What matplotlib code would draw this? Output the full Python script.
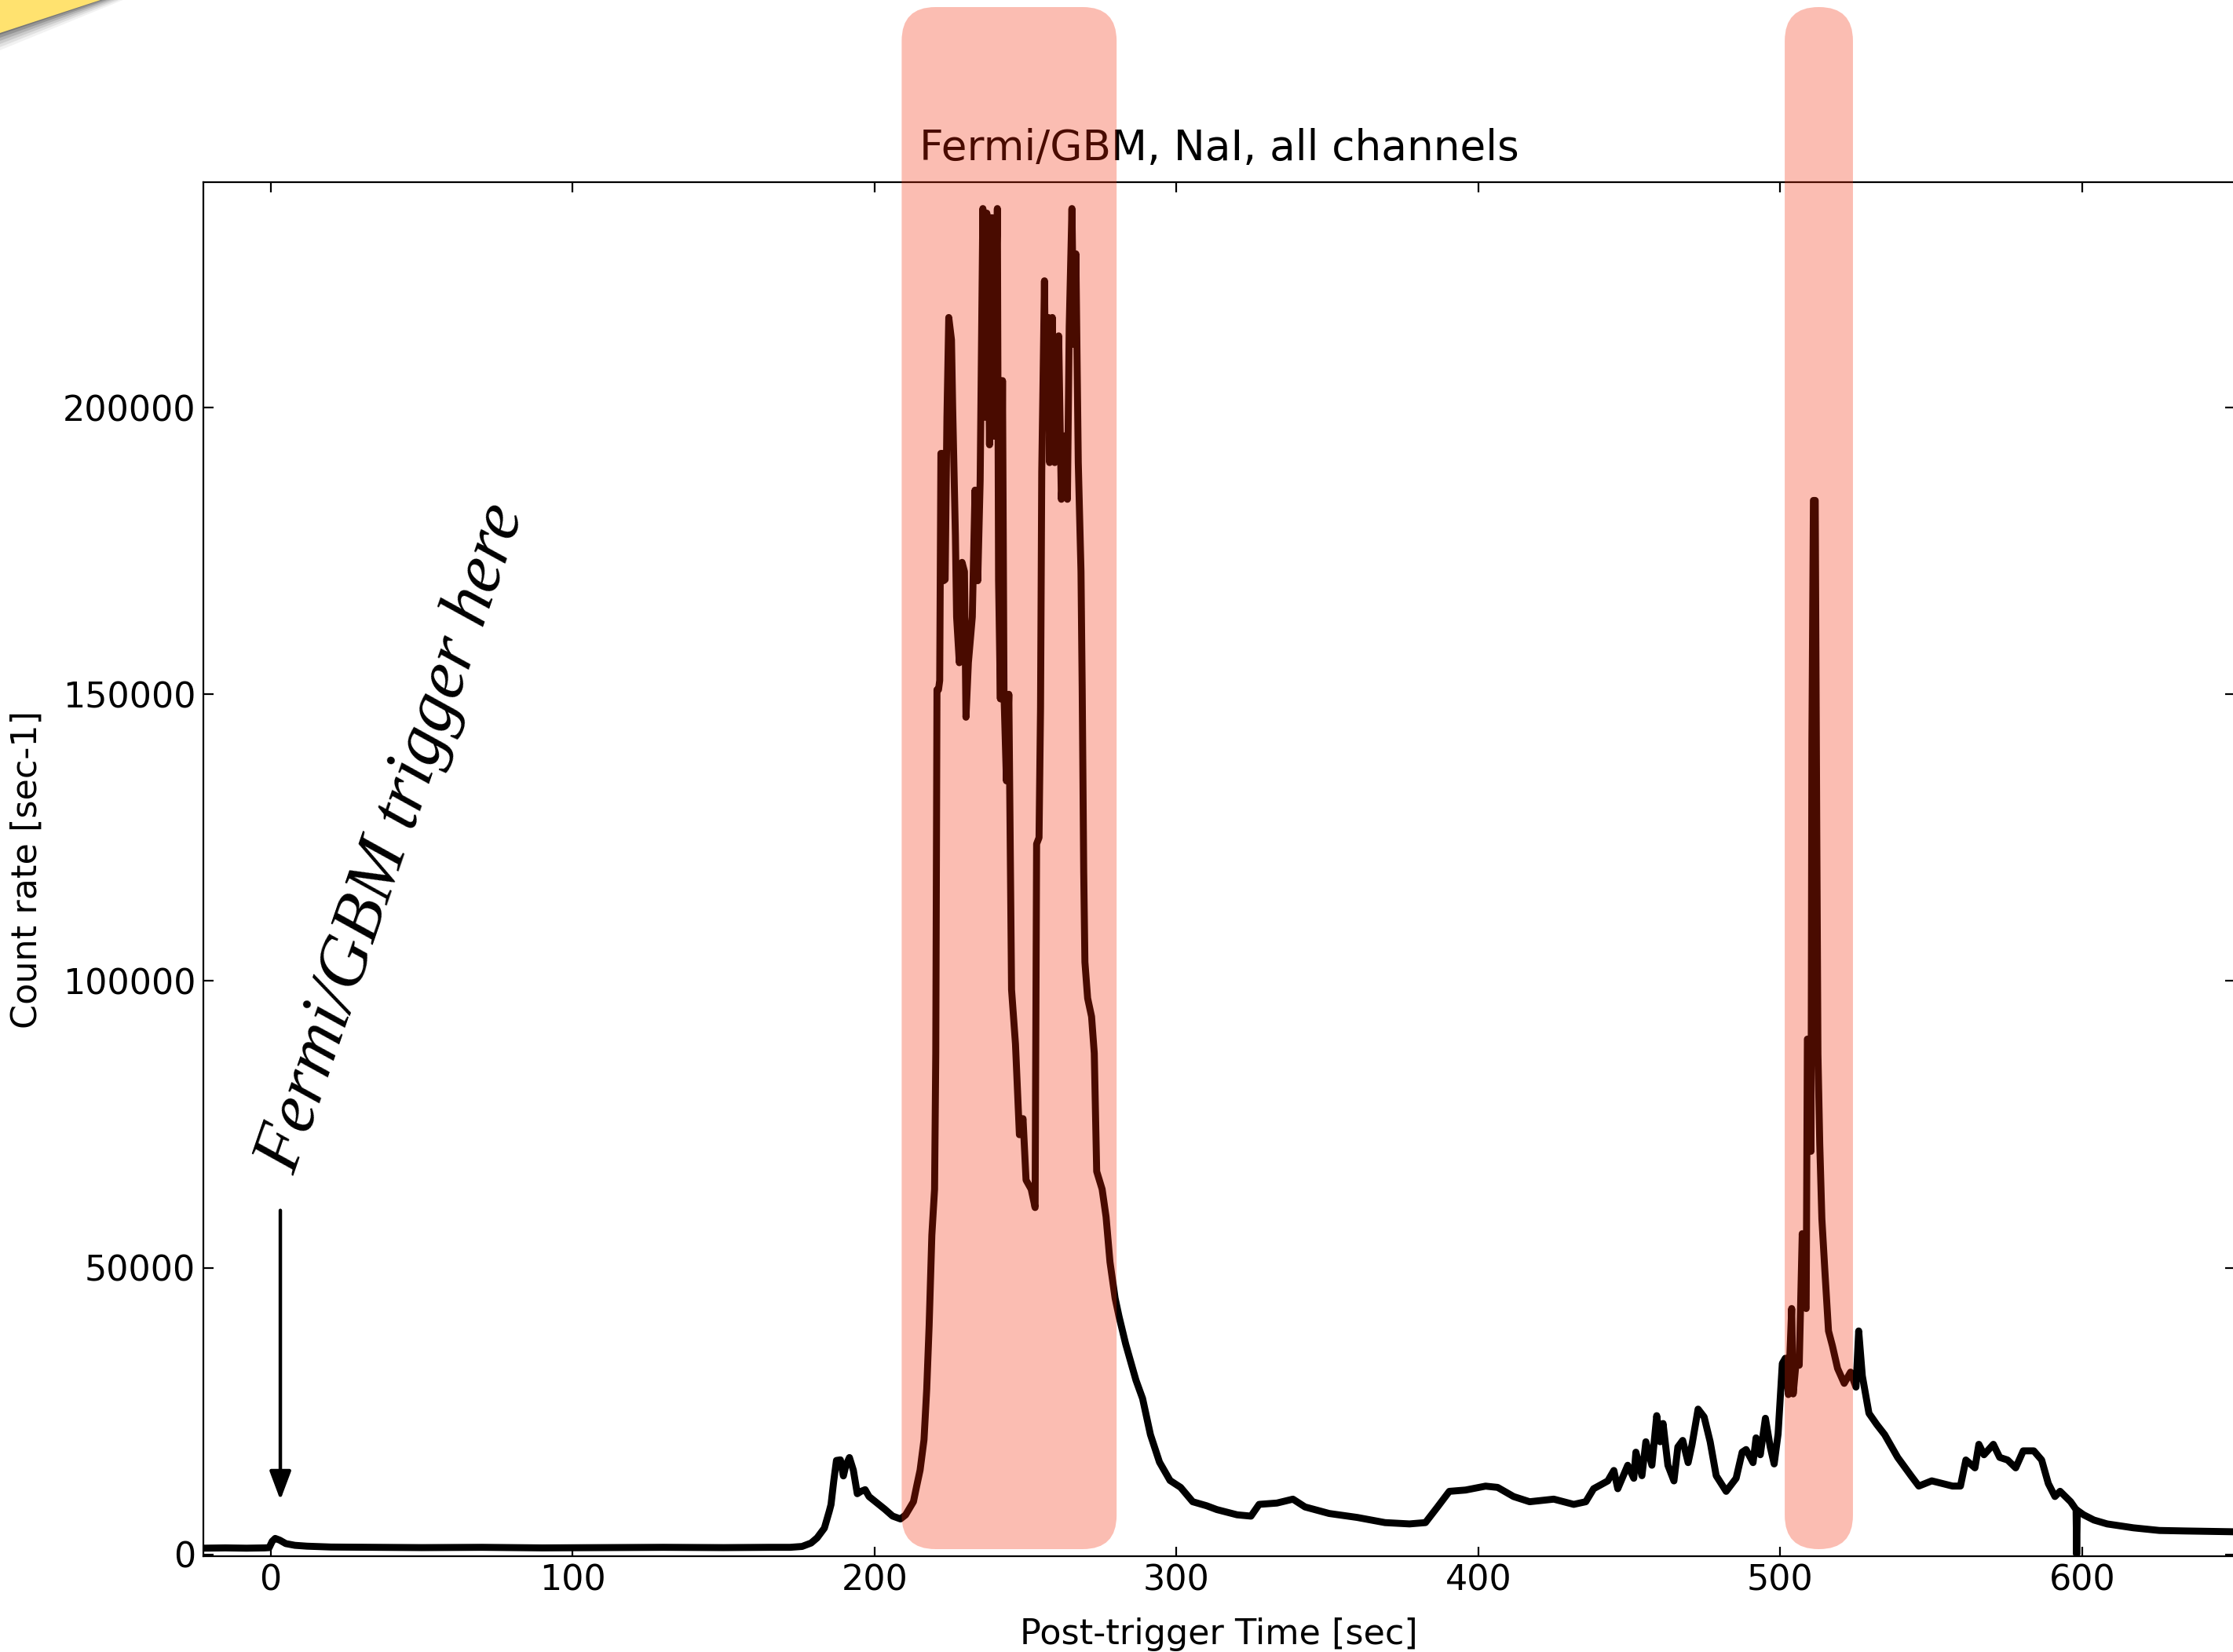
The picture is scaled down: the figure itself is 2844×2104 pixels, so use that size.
import numpy as np
import matplotlib
matplotlib.use("Agg")
import matplotlib.pyplot as plt
from matplotlib.patches import FancyBboxPatch, Polygon
from matplotlib.transforms import IdentityTransform

# Light curve: post-trigger time [s] and count rate [1/s]
time_s = [-22.3, -15, -8, -2, -0.5, 0.5, 1.5, 3, 5, 8, 12, 20, 35, 50, 70, 90, 110, 130,
          150, 165, 172, 176, 179, 181, 183.4, 185, 185.6, 186.5, 187.4, 188.7, 189.7,
          190.5, 191.7, 193, 194.3, 195.5, 196.9, 198.2, 200.8, 203.4, 206, 208.6, 210.3,
          212.9, 214, 215.1, 216.4, 217.3, 218.1, 219.0, 219.9, 220.3, 220.7, 221.2, 221.6,
          222.0, 222.5, 222.9, 223.4, 224.0, 224.6, 225.5, 225.9, 226.8, 227.2, 228.1,
          229.0, 229.8, 230.3, 231.1, 232.4, 233.3, 234.2, 235.0, 235.9, 236.8, 237.2,
          238.1, 238.9, 239.5, 240.7, 241.1, 241.7, 242.4, 242.9, 243.7, 244.5, 245.4,
          246.7, 248.0, 249.2, 250.2, 251.9, 253.2, 253.7, 254.5, 255.0, 255.4, 256.3,
          256.7, 257.6, 258.0, 258.9, 259.7, 261.0, 261.9, 263.2, 263.9, 264.5, 265.4,
          266.0, 266.7, 267.5, 268.4, 268.8, 269.3, 269.7, 270.6, 271.9, 272.8, 273.6,
          275.4, 276.7, 278.0, 279.7, 281.0, 283.2, 286.6, 288.8, 291.4, 294.4, 297.9,
          301.4, 305.4, 310, 313.4, 320.1, 324.7, 327.4, 333.3, 338.6, 342.6, 350.6,
          359.9, 369.1, 377.2, 382.5, 386.5, 390.4, 395.8, 402.4, 406.4, 411.7, 417.0,
          425.0, 431.6, 435.6, 438.2, 442.9, 444.9, 446.2, 449.5, 451.5, 452.2, 454.2,
          455.5, 457.5, 459.1, 460.2, 461.2, 462.8, 464.8, 466.1, 467.7, 469.5, 470.8,
          472.8, 474.8, 476.8, 478.8, 482.1, 485.4, 487.4, 488.7, 491.0, 492.0, 493.4,
          495.1, 496.7, 498.0, 499.3, 500.7, 501.7, 502.7, 503.8, 504.3, 505.3, 506.3,
          507.3, 507.9, 508.6, 509.0, 509.6, 510.2, 510.5, 511.0, 511.6, 512.1, 512.5,
          513.1, 513.8, 514.8, 516.0, 517.3, 519.0, 521.2, 523.3, 525.1, 526.0, 527.2,
          529.4, 532.0, 534.6, 538.9, 543.3, 545.9, 550.2, 553.7, 557.1, 559.7, 561.5,
          564.5, 565.8, 567.5, 570.6, 572.7, 575.3, 578.0, 580.5, 584.0, 586.6, 588.8,
          591.0, 592.7, 596.2, 598.0, 598.2, 598.4, 600.5, 603.9, 608.3, 617.0, 625.6,
          634.3, 650.5]
rate = [1100, 1150, 1100, 1150, 1200, 2300, 2800, 2500, 1900, 1600, 1450, 1300, 1250,
        1200, 1250, 1150, 1200, 1250, 1200, 1250, 1250, 1400, 2000, 2900, 4600, 7500,
        8700, 12800, 16400, 16500, 13700, 15500, 16900, 14700, 10600, 11000, 11300, 10100,
        9000, 7900, 6700, 6200, 6900, 9200, 12000, 14700, 20000, 28800, 39900, 55700,
        63700, 87400, 150800, 150800, 152400, 192000, 192000, 169800, 170000, 198300,
        215700, 211800, 199900, 177700, 163500, 155500, 173000, 171400, 146000, 155500,
        163500, 185600, 169800, 187200, 234700, 198300, 233900, 193500, 233100, 195000,
        234700, 169800, 149200, 204700, 150000, 134900, 150000, 98500, 89000, 73200,
        76000, 65300, 63700, 60500, 123900, 125000, 147600, 188800, 222100, 201500,
        215700, 190400, 215700, 190400, 212500, 184000, 195100, 184000, 214100, 234700,
        211000, 226800, 190400, 171400, 150800, 119100, 103300, 97000, 93800, 87400,
        66800, 63700, 58900, 51000, 44700, 41500, 36700, 30400, 27200, 20900, 16100,
        12900, 11700, 9200, 8500, 7830, 6920, 6690, 8740, 8970, 9650, 8290, 7150, 6460,
        5560, 5330, 5560, 8290, 11010, 11240, 11920, 11700, 10100, 9200, 9650, 8740,
        9200, 11470, 12830, 14650, 11470, 15560, 13290, 17840, 13740, 19660, 15560,
        24210, 19660, 22840, 15560, 12830, 18750, 19890, 16020, 19200, 25350, 23980,
        19660, 13740, 11010, 13290, 17840, 18300, 16020, 20340, 17390, 23750, 18750,
        15790, 21020, 33310, 34220, 27890, 42890, 28000, 33760, 33000, 55940, 43550,
        42890, 89870, 89870, 70300, 142100, 183800, 183800, 127700, 87260, 71600, 58550,
        49430, 38980, 36370, 32450, 29840, 31800, 29190, 38980, 31150, 24620, 22660,
        20900, 16930, 13750, 11930, 12840, 12380, 11930, 11930, 16480, 15110, 19210,
        17390, 19210, 16930, 16480, 15110, 18070, 18070, 16480, 12380, 10110, 11020,
        9200, 7830, 0, 7700, 6920, 6010, 5330, 4650, 4190, 4100, 3960]

# highlighted intervals [s]
span_start = [209.0, 501.5]
span_end = [280.2, 524.1]

W, H, DPI = 2844, 2104, 200
plt.rcParams['font.family'] = 'DejaVu Sans'
plt.rcParams['font.size'] = 16

fig = plt.figure(figsize=(W / DPI, H / DPI), dpi=DPI)
ax = fig.add_axes([259 / W, 1 - 1982 / H, (2846 - 259) / W, (1982 - 232) / H])

ax.plot(time_s, rate, color='black', lw=3.2, zorder=2)
ax.set_xlim(-22.3, 650.5)
ax.set_ylim(-300, 239300)
ax.set_xticks([0, 100, 200, 300, 400, 500, 600])
ax.set_yticks([0, 50000, 100000, 150000, 200000])
ax.tick_params(direction='in', top=True, right=True, length=4.5, labelsize=16)
ax.set_xlabel('Post-trigger Time [sec]', fontsize=16, labelpad=9)
ax.set_ylabel('Count rate [sec-1]', fontsize=16, labelpad=8.5)
ax.set_title('Fermi/GBM, NaI, all channels', fontsize=19.2, pad=10)

# trigger arrow and label
ax.annotate('', xy=(3.2, 9500), xytext=(3.2, 60000),
            arrowprops=dict(arrowstyle='-|>,head_width=0.3,head_length=0.8',
                            color='black', lw=1.6, shrinkA=0, shrinkB=0,
                            mutation_scale=14))
ax.text(8.0, 66000, 'Fermi/GBM trigger here', rotation=71, rotation_mode='anchor',
        ha='left', va='baseline', fontsize=32.5, family='Liberation Serif',
        style='italic')

# rounded translucent highlight boxes, drawn over everything
fig.canvas.draw()
for t0, t1 in zip(span_start, span_end):
    x0 = ax.transData.transform((t0, 0))[0]
    x1 = ax.transData.transform((t1, 0))[0]
    box = FancyBboxPatch((x0, H - 1973), x1 - x0, 1973 - 9,
                         boxstyle='round,pad=0,rounding_size=43',
                         transform=IdentityTransform(), facecolor='#f52700',
                         edgecolor='none', alpha=0.3, zorder=10, clip_on=False)
    fig.add_artist(box)

# folded yellow corner with a soft shadow
for i, a in enumerate([0.05, 0.07, 0.09, 0.12, 0.16, 0.2]):
    d = 22 - i * 4
    fig.add_artist(Polygon([(0, H), (128 + d * 1.3, H), (0, H - 42 - d)],
                           closed=True, transform=IdentityTransform(),
                           facecolor='black', edgecolor='none', alpha=a, zorder=11))
fig.add_artist(Polygon([(0, H), (128, H), (0, H - 42)], closed=True,
                       transform=IdentityTransform(), facecolor='#ffe26f',
                       edgecolor='none', zorder=12))

fig.savefig('out.png', dpi=DPI)
